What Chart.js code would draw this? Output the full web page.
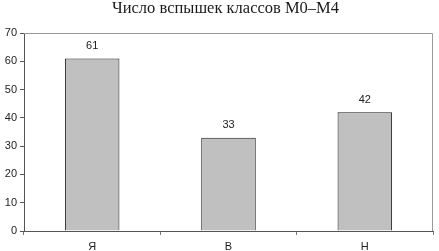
<!DOCTYPE html>
<html>
<head>
<meta charset="utf-8">
<script src="https://cdn.jsdelivr.net/npm/chart.js@4/dist/chart.umd.min.js"></script>
<style>
  html, body { margin: 0; padding: 0; background: #fff; }
  #wrap { width: 439px; height: 251px; position: relative; }
</style>
</head>
<body>
<div id="wrap"><canvas id="chart"></canvas></div>
<script>
const titleText = "Число вспышек классов M0–M4";
const categories = ["Я", "В", "Н"];
const flareCounts = [61, 33, 42];
const yTicks = [0, 10, 20, 30, 40, 50, 60, 70];

const sansFont = "'Liberation Sans', Arial, sans-serif";

// plot frame (gray top/right edges) like the old spreadsheet look
const frameBox = {
    id: "frameBox",
    beforeDatasetsDraw(chart) {
        const {ctx, chartArea: a} = chart;
        ctx.save();
        ctx.strokeStyle = "#9a9a9a";
        ctx.lineWidth = 1;
        ctx.beginPath();
        ctx.moveTo(a.left, a.top + 0.5);
        ctx.lineTo(a.right - 0.5, a.top + 0.5);
        ctx.lineTo(a.right - 0.5, a.bottom);
        ctx.stroke();
        ctx.restore();
    },
};

// title sits a bit right of canvas centre, over the plot
const serifTitle = {
    id: "serifTitle",
    afterDraw(chart) {
        const {ctx, chartArea: a} = chart;
        ctx.save();
        ctx.fillStyle = "#1a1a1a";
        ctx.font = "16.5px 'Liberation Serif', 'Times New Roman', serif";
        ctx.textAlign = "center";
        ctx.textBaseline = "middle";
        ctx.fillText(titleText, (a.left + a.right) / 2 - 3, 9);
        ctx.restore();
    },
};

const valueLabels = {
    id: "valueLabels",
    afterDatasetsDraw(chart) {
        const {ctx} = chart;
        const meta = chart.getDatasetMeta(0);
        ctx.save();
        ctx.fillStyle = "#222";
        ctx.font = "11px " + sansFont;
        ctx.textAlign = "center";
        ctx.textBaseline = "bottom";
        meta.data.forEach((bar, i) => {
            ctx.fillText(String(flareCounts[i]), bar.x, bar.y - 7);
        });
        ctx.restore();
    },
};

new Chart(document.getElementById("chart").getContext("2d"), {
    type: "bar",
    data: {
        labels: categories,
        datasets: [{
            data: flareCounts,
            backgroundColor: "#c0c0c0",
            borderColor: "#1a1a1a",
            borderWidth: 1,
            borderSkipped: "bottom",
            barPercentage: 0.4,
            categoryPercentage: 1,
        }],
    },
    options: {
        responsive: true,
        maintainAspectRatio: false,
        animation: false,
        layout: {padding: {left: 0, right: 6, top: 33, bottom: 0}},
        plugins: {
            legend: {display: false},
            tooltip: {enabled: false},
            title: {display: false},
        },
        scales: {
            y: {
                min: 0,
                max: 70,
                afterBuildTicks: (s) => { s.ticks = yTicks.map(v => ({value: v})); },
                afterFit: (s) => { s.width = 24; },
                ticks: {color: "#222", font: {family: sansFont, size: 11}, padding: 3},
                grid: {drawOnChartArea: false, drawTicks: true, tickLength: 4, color: "#555"},
                border: {display: true, color: "#555"},
            },
            x: {
                offset: true,
                afterFit: (s) => { s.height = 20; },
                ticks: {color: "#222", font: {family: sansFont, size: 11}, padding: 5},
                grid: {drawOnChartArea: false, drawTicks: true, tickLength: 4, offset: true, color: "#777"},
                border: {display: true, color: "#555"},
            },
        },
    },
    plugins: [frameBox, valueLabels, serifTitle],
});
</script>
</body>
</html>
